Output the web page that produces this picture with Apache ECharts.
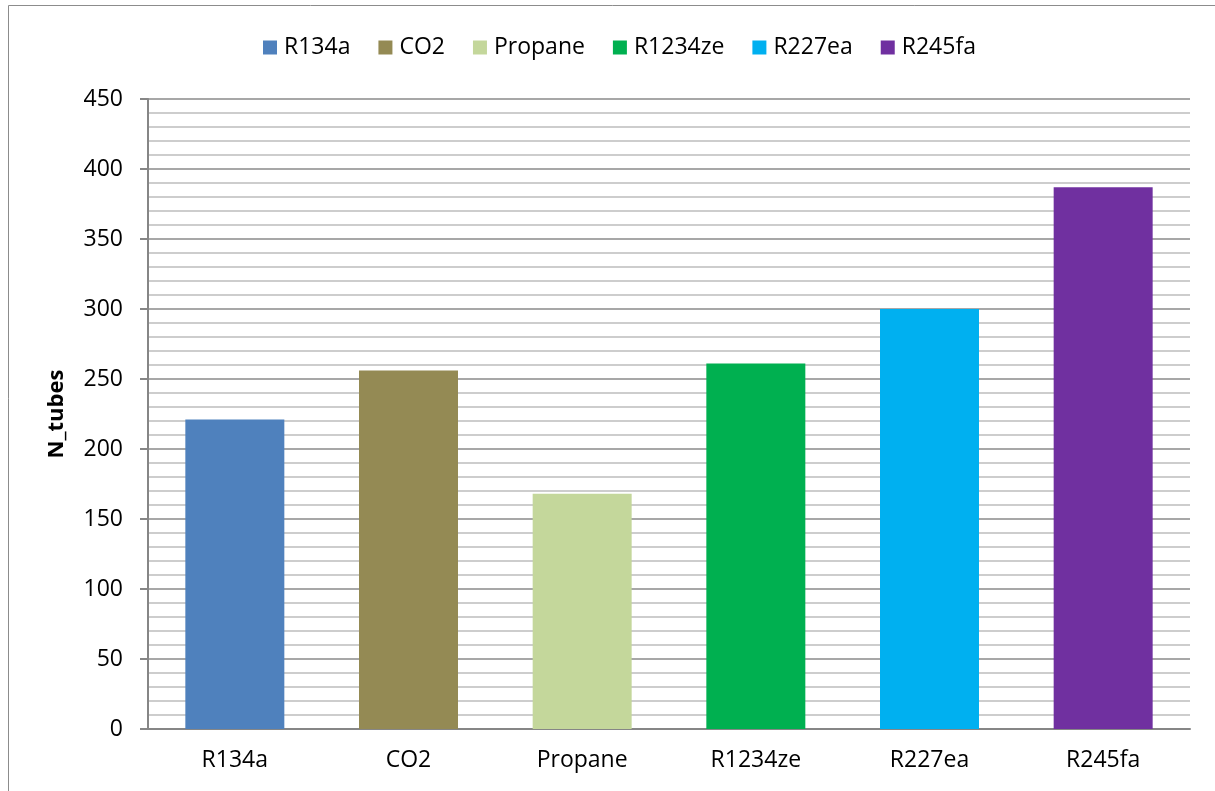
<!DOCTYPE html>
<html>
<head>
<meta charset="utf-8">
<title>N_tubes by refrigerant</title>
<script src="https://cdn.jsdelivr.net/npm/echarts@6/dist/echarts.min.js"></script>
<style>
    html, body { margin: 0; padding: 0; background: #fff; }
    #chart { width: 1215px; height: 791px; }
</style>
</head>
<body>
<div id="chart"></div>
<script>
// values
const categories = ["R134a", "CO2", "Propane", "R1234ze", "R227ea", "R245fa"];
const nTubes = [221, 256, 168, 261, 300, 387];
const colors = ["#4F81BD", "#948A54", "#C4D79B", "#00B050", "#00B0F0", "#7030A0"];
const yTicks = [0, 50, 100, 150, 200, 250, 300, 350, 400, 450];

const font = "'Open Sans', 'Noto Sans', sans-serif";

// one series per refrigerant so the legend lists them, stacked so each sits centred in its slot
const series = categories.map((name, i) => ({
    name: name,
    type: "bar",
    stack: "all",
    barWidth: "57%",
    itemStyle: { color: colors[i] },
    data: categories.map((_, j) => (j === i ? nTubes[i] : "-")),
}));

const chart = echarts.init(document.getElementById("chart"));
chart.setOption({
    animation: false,
    textStyle: { fontFamily: font },
    graphic: [{
        type: "rect",
        shape: { x: 8.5, y: 5.5, width: 1220, height: 800 },
        style: { fill: null, stroke: "#8c8c8c", lineWidth: 1 },
        silent: true,
    }],
    legend: {
        top: 31,
        left: 258,
        itemWidth: 14,
        itemHeight: 14,
        itemGap: 28,
        icon: "rect",
        textStyle: { fontSize: 23, color: "#000", fontFamily: font, padding: [0, 0, 0, 2] },
        data: categories,
    },
    grid: { left: 148, right: 25, top: 99, bottom: 62, containLabel: false },
    xAxis: {
        type: "category",
        data: categories,
        axisLine: { lineStyle: { color: "#868686", width: 2 } },
        axisTick: { show: false },
        axisLabel: { color: "#000", fontSize: 23, margin: 20, fontFamily: font },
    },
    yAxis: {
        type: "value",
        min: yTicks[0],
        max: yTicks[yTicks.length - 1],
        interval: 50,
        name: "N_tubes",
        nameLocation: "middle",
        nameRotate: 90,
        nameGap: 80,
        nameTextStyle: { fontSize: 22, fontWeight: "bold", color: "#000", fontFamily: font },
        axisLine: { show: true, lineStyle: { color: "#868686", width: 2 } },
        axisTick: { show: true, length: 8, lineStyle: { color: "#868686", width: 2 } },
        axisLabel: { color: "#000", fontSize: 23, margin: 25, fontFamily: font },
        splitLine: { lineStyle: { color: "#8a8a8a", width: 1.5 } },
        minorTick: { show: false, splitNumber: 5 },
        minorSplitLine: { show: true, lineStyle: { color: "#bdbdbd", width: 1.5 } },
    },
    series: series,
});
</script>
</body>
</html>
